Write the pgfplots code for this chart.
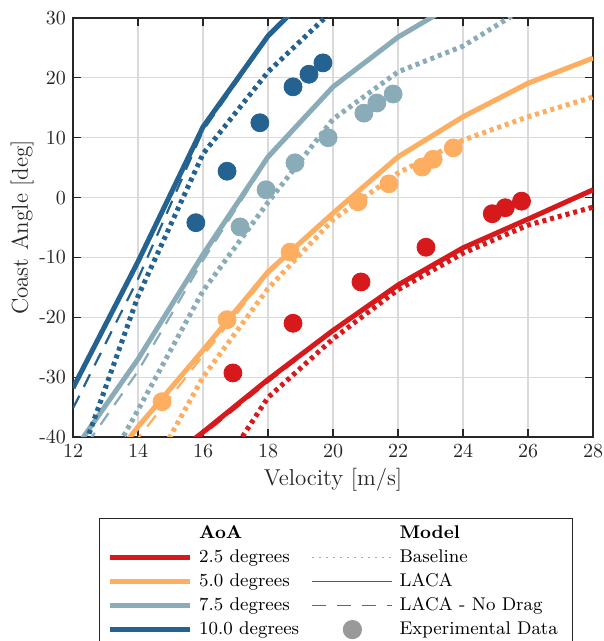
\documentclass[border=0pt]{standalone}
\usepackage{pgfplots}
\pgfplotsset{compat=1.18}
\usetikzlibrary{calc}

\definecolor{cRed}{RGB}{215,25,28}
\definecolor{cOrange}{RGB}{253,174,97}
\definecolor{cLight}{RGB}{138,172,184}
\definecolor{cDark}{RGB}{35,98,145}
\definecolor{cAxis}{RGB}{38,38,38}
\definecolor{cGrid}{RGB}{218,218,218}

\tikzset{
  laca/.style={line width=2.5pt},
  nodrag/.style={line width=1.1pt, dash pattern=on 7pt off 5pt},
  base/.style={line width=2.5pt, dash pattern=on 2pt off 2pt},
  expt/.style={only marks, mark=*, mark size=4.5pt, mark options={draw=none}},
}

\begin{document}
\begin{tikzpicture}
\begin{axis}[
  name=ax,
  scale only axis,
  width=260pt, height=209.5pt,
  xmin=12, xmax=28, ymin=-40, ymax=30,
  xtick={12,14,...,28},
  ytick={-40,-30,...,30},
  yticklabels={-40,-30,-20,-10,0,10,20,30},
  xticklabels={12,14,16,18,20,22,24,26,28},
  tick align=inside,
  ticks=major,
  major tick length=4pt,
  axis line style={cAxis, line width=0.6pt},
  tick style={cAxis, line width=0.6pt},
  grid=major,
  major grid style={cGrid, line width=0.6pt},
  tick label style={font=\fontsize{10}{12}\selectfont, text=cAxis},
  label style={font=\fontsize{11.5}{13}\selectfont, text=cAxis},
  xlabel={Velocity [m/s]},
  ylabel={Coast Angle [deg]},
  xlabel style={at={(axis description cs:0.5,-0.1026)}, anchor=center},
  ylabel style={at={(axis description cs:-0.098,0.5)}, anchor=center},
  clip=true,
  legend columns=2,
  legend cell align=left,
  legend image code/.code={\draw[#1] (0pt,0pt) -- (40pt,0pt);},
  legend style={
    at={(axis description cs:0.05,-0.1933)}, anchor=north west,
    draw=cAxis, line width=0.6pt, fill=white,
    font=\fontsize{9.2}{11}\selectfont,
    inner sep=1.5pt, inner xsep=4pt, row sep=0pt,
    nodes={text height=6.8pt, text depth=2.2pt, inner ysep=1.5pt, inner xsep=3.3pt},
    /tikz/every even column/.append style={column sep=3pt},
  },
]

% ---------- AoA 2.5 degrees ----------
\addplot[cRed, base, forget plot] coordinates {
  (16,-50) (18,-33.4) (20,-23.6) (22,-15.4) (24,-9.3) (26,-4.6) (28,-1.6)};
\addplot[cRed, nodrag, forget plot] coordinates {
  (14,-49) (16,-39.6) (18,-30.8) (20,-22.3) (22,-14.7) (24,-8.5) (26,-3.7) (28,1.2)};
\addplot[cRed, laca, forget plot] coordinates {
  (14,-47.5) (16,-39.2) (18,-30.4) (20,-22.2) (22,-14.6) (24,-8.4) (26,-3.6) (28,1.3)};
\addplot[cRed, expt, forget plot] coordinates {
  (16.92,-29.3) (18.77,-21.0) (20.86,-14.1) (22.86,-8.3) (24.9,-2.7) (25.3,-1.7) (25.8,-0.6)};

% ---------- AoA 5.0 degrees ----------
\addplot[cOrange, base, forget plot] coordinates {
  (14,-49.6) (16,-30.0) (18,-15.2) (20,-3.7) (22,4.1) (24,9.6) (26,13.5) (28,16.8)};
\addplot[cOrange, nodrag, forget plot] coordinates {
  (12,-54) (14,-40.2) (16,-26.4) (18,-12.8) (20,-2.7) (22,6.7) (24,13.5) (26,19.1) (28,23.3)};
\addplot[cOrange, laca, forget plot] coordinates {
  (12,-52) (14,-38.3) (16,-25.5) (18,-12.4) (20,-2.6) (22,6.8) (24,13.5) (26,19.1) (28,23.3)};
\addplot[cOrange, expt, forget plot] coordinates {
  (14.74,-34.1) (16.74,-20.4) (18.68,-9.1) (20.77,-0.7) (21.72,2.3) (22.74,5.1) (23.08,6.4) (23.7,8.3)};

% ---------- AoA 7.5 degrees ----------
\addplot[cLight, base, forget plot] coordinates {
  (12,-55) (14,-35.5) (16,-15.6) (18,-0.8) (20,13.1) (22,21.0) (24,25.3) (26,32.0)};
\addplot[cLight, nodrag, forget plot] coordinates {
  (12,-44.5) (14,-29.0) (16,-10.5) (18,6.5) (20,18.3) (22,26.6) (24,33.2)};
\addplot[cLight, laca, forget plot] coordinates {
  (12,-42.5) (14,-27.0) (16,-9.5) (18,6.8) (20,18.5) (22,26.8) (24,33.2)};
\addplot[cLight, expt, forget plot] coordinates {
  (17.14,-4.9) (17.94,1.3) (18.83,5.8) (19.85,10.0) (20.95,14.1) (21.35,15.8) (21.85,17.3)};

% ---------- AoA 10.0 degrees ----------
\addplot[cDark, base, forget plot] coordinates {
  (12,-47) (14,-16.5) (16,7.3) (18,21.0) (20,31.3)};
\addplot[cDark, nodrag, forget plot] coordinates {
  (12,-35.2) (14,-13.6) (16,11.2) (18,26.8) (20,37.5)};
\addplot[cDark, laca, forget plot] coordinates {
  (12,-31.8) (14,-10.7) (16,11.8) (18,27.0) (20,37.8)};
\addplot[cDark, expt, forget plot] coordinates {
  (15.78,-4.2) (16.74,4.4) (17.75,12.5) (18.77,18.5) (19.26,20.6) (19.69,22.5)};

% ---------- legend ----------
\addlegendimage{empty legend}
\addlegendentry{\textbf{AoA}}
\addlegendimage{empty legend}
\addlegendentry{\textbf{Model}}
\addlegendimage{cRed, line width=2.5pt}
\addlegendentry{2.5 degrees}
\addlegendimage{black!35, line width=0.5pt, dash pattern=on 0.6pt off 2.9pt}
\addlegendentry{Baseline}
\addlegendimage{cOrange, line width=2.5pt}
\addlegendentry{5.0 degrees}
\addlegendimage{black!65, line width=0.6pt}
\addlegendentry{LACA}
\addlegendimage{cLight, line width=2.5pt}
\addlegendentry{7.5 degrees}
\addlegendimage{black!60, line width=0.6pt, dash pattern=on 7pt off 5.5pt}
\addlegendentry{LACA - No Drag}
\addlegendimage{cDark, line width=2.5pt}
\addlegendentry{10.0 degrees}
\addlegendimage{legend image code/.code={\fill[black!40] (20pt,0pt) circle (4.5pt);}}
\addlegendentry{Experimental Data}
\end{axis}
\pgfresetboundingbox
\path ($(ax.south west)+(-36.5pt,-102pt)$) rectangle ($(ax.north east)+(5pt,9pt)$);
\end{tikzpicture}
\end{document}
